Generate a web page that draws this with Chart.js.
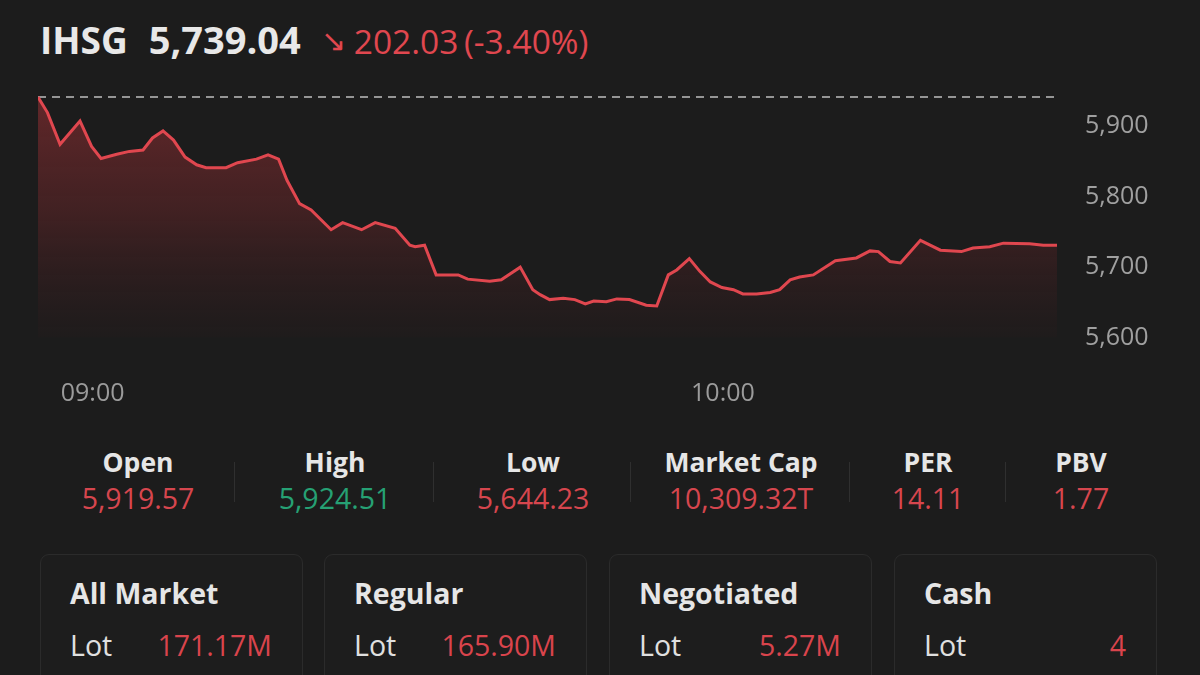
<!DOCTYPE html>
<html>
<head>
<meta charset="utf-8">
<script src="https://cdn.jsdelivr.net/npm/chart.js@4/dist/chart.umd.min.js"></script>
<style>
  html, body { margin: 0; padding: 0; }
  body {
    width: 1200px; height: 675px; overflow: hidden;
    background: #1c1c1c; color: #e6e6e6;
    font-family: 'Open Sans', sans-serif; position: relative;
  }
  .header { position: absolute; left: 40px; top: 12px; white-space: nowrap; font-size: 37px; line-height: 54px; }
  .header .name, .header .last { font-weight: 700; color: #e8e8e8; }
  .header .last { margin-left: 21px; font-size: 38px; }
  .header .chg { color: #e0474f; margin-left: 20px; font-size: 33.5px; }
  .header .arrow { font-size: 30px; margin-right: 8px; position: relative; top: -3px; }
  #chartWrap { position: absolute; left: 0; top: 0; width: 1200px; height: 420px; }
  .stats { position: absolute; top: 444px; left: 0; width: 1200px; height: 80px; }
  .stat { position: absolute; top: 0; text-align: center; transform: translateX(-50%); white-space: nowrap; }
  .stat .lbl { font-weight: 700; font-size: 26.5px; color: #e6e6e6; line-height: 36px; }
  .stat .val { font-size: 28.5px; line-height: 36px; }
  .sep { position: absolute; top: 18px; width: 1px; height: 40px; background: #2f2f2f; }
  .card {
    position: absolute; top: 554px; width: 263px; height: 140px;
    border: 1px solid #2b2b2b; border-radius: 9px; background: #1d1d1d; box-sizing: border-box;
  }
  .card .title { position: absolute; left: 29px; top: 19px; font-weight: 700; font-size: 28.5px; color: #e6e6e6; }
  .card .lot { position: absolute; left: 29px; top: 71px; font-size: 28.5px; color: #e0e0e0; }
  .card .num { position: absolute; right: 30px; top: 71px; font-size: 28.5px; color: #d9444c; }
</style>
</head>
<body>
<div class="header" id="header"></div>
<div id="chartWrap"><canvas id="ihsg"></canvas></div>
<div class="stats" id="stats"></div>
<div id="cards"></div>
<script>
// intraday points: minutes from 09:00 and index level
const times = [-5.2, -4.3, -3.1, -1.2, -0.1, 0.8, 2.3, 3.5, 4.8, 5.7, 6.7, 7.7, 8.8, 9.9, 10.8, 12.7,
  13.8, 15.6, 16.7, 17.7, 18.5, 19.7, 20.8, 22.7, 23.8, 25.6, 26.9, 28.8, 30.2, 30.7, 31.6, 32.7,
  34.8, 35.7, 37.8, 38.9, 40.7, 41.9, 42.6, 43.5, 44.8, 45.9, 46.9, 47.7, 48.9, 49.9, 51.1, 52.7,
  53.7, 54.8, 55.6, 56.8, 57.8, 58.8, 59.9, 61.0, 61.9, 63.2, 64.5, 65.4, 66.4, 67.3, 68.6, 70.7,
  72.7, 74.0, 74.8, 75.9, 76.9, 78.8, 80.7, 82.7, 83.8, 85.4, 86.7, 89.2, 90.5, 91.8];
const values = [5941, 5919, 5874, 5907, 5871, 5854, 5860, 5864, 5866, 5883, 5893, 5880, 5856, 5845, 5841, 5841,
  5848, 5853, 5859, 5853, 5823, 5790, 5781, 5753, 5763, 5753, 5763, 5755, 5731, 5729, 5731, 5689,
  5689, 5683, 5680, 5682, 5700, 5668, 5661, 5654, 5656, 5654, 5648, 5652, 5651, 5655, 5654, 5646,
  5645, 5689, 5696, 5712, 5694, 5679, 5671, 5668, 5662, 5662, 5664, 5668, 5682, 5686, 5689, 5709,
  5713, 5723, 5722, 5708, 5706, 5738, 5724, 5722, 5727, 5729, 5734, 5733, 5731, 5731];
const prevClose = 5941.07;
const yTicks = [5600, 5700, 5800, 5900];
const xTicks = [0, 60];

const headerName = 'IHSG';
const headerLast = '5,739.04';
const headerArrow = '↘';
const headerChange = '202.03\u2009(-3.40%)';

const statLabels = ['Open', 'High', 'Low', 'Market Cap', 'PER', 'PBV'];
const statValues = ['5,919.57', '5,924.51', '5,644.23', '10,309.32T', '14.11', '1.77'];
const statColors = ['#d6464e', '#26a174', '#d6464e', '#d6464e', '#d6464e', '#d6464e'];

const cardTitles = ['All Market', 'Regular', 'Negotiated', 'Cash'];
const cardLots = ['171.17M', '165.90M', '5.27M', '4'];

document.getElementById('header').innerHTML =
  '<span class="name">' + headerName + '</span><span class="last">' + headerLast +
  '</span><span class="chg"><span class="arrow">' + headerArrow + '</span>' + headerChange + '</span>';

// stats row
const statCenters = [138, 335, 533, 741, 928, 1081];
const sepX = [234, 433, 630, 849, 1005];
const stats = document.getElementById('stats');
statLabels.forEach((l, i) => {
  const d = document.createElement('div');
  d.className = 'stat';
  d.style.left = statCenters[i] + 'px';
  d.innerHTML = '<div class="lbl">' + l + '</div><div class="val" style="color:' + statColors[i] + '">' + statValues[i] + '</div>';
  stats.appendChild(d);
});
sepX.forEach(x => {
  const s = document.createElement('div');
  s.className = 'sep';
  s.style.left = x + 'px';
  stats.appendChild(s);
});

// volume cards
const cardLeft = [40, 324, 609, 894];
const cards = document.getElementById('cards');
cardTitles.forEach((t, i) => {
  const c = document.createElement('div');
  c.className = 'card';
  c.style.left = cardLeft[i] + 'px';
  c.innerHTML = '<div class="title">' + t + '</div><div class="lot">Lot</div><div class="num">' + cardLots[i] + '</div>';
  cards.appendChild(c);
});

const ctx = document.getElementById('ihsg');
const fmtTime = m => {
  const h = 9 + Math.floor(m / 60), mm = Math.round(m % 60);
  return String(h).padStart(2, '0') + ':' + String(mm).padStart(2, '0');
};

new Chart(ctx, {
  type: 'line',
  data: {
    datasets: [
      {
        label: 'IHSG',
        data: times.map((t, i) => ({ x: t, y: values[i] })),
        borderColor: '#e0474f',
        borderWidth: 3,
        pointRadius: 0,
        tension: 0,
        fill: 'start',
        backgroundColor: function (context) {
          const area = context.chart.chartArea;
          if (!area) return 'rgba(180,50,55,0.3)';
          const g = context.chart.ctx.createLinearGradient(0, area.top, 0, area.bottom);
          g.addColorStop(0, 'rgba(190,55,60,0.45)');
          g.addColorStop(0.5, 'rgba(150,45,50,0.3)');
          g.addColorStop(1, 'rgba(90,30,35,0.05)');
          return g;
        }
      },
      {
        label: 'Prev close',
        data: [{ x: times[0], y: prevClose }, { x: times[times.length - 1], y: prevClose }],
        borderColor: '#959595',
        borderWidth: 2,
        borderDash: [8, 6],
        pointRadius: 0,
        fill: false
      }
    ]
  },
  options: {
    responsive: true,
    maintainAspectRatio: false,
    animation: false,
    layout: { padding: { top: 90, left: 38, right: 0, bottom: 0 } },
    plugins: { legend: { display: false }, tooltip: { enabled: false } },
    scales: {
      x: {
        type: 'linear',
        min: times[0],
        max: times[times.length - 1],
        grid: { display: false, drawTicks: false },
        border: { display: false },
        afterBuildTicks: axis => { axis.ticks = xTicks.map(v => ({ value: v })); },
        afterFit: axis => { axis.height = 82.3; },
        ticks: {
          color: '#9b9b9b',
          padding: 41,
          maxRotation: 0,
          font: { family: 'Open Sans', size: 25 },
          callback: v => fmtTime(v)
        }
      },
      y: {
        position: 'right',
        min: 5600,
        max: 5951,
        grid: { display: false, drawTicks: false },
        border: { display: false },
        afterBuildTicks: axis => { axis.ticks = yTicks.map(v => ({ value: v })); },
        afterFit: axis => { axis.width = 143; },
        ticks: {
          color: '#a0a0a0',
          padding: 28,
          font: { family: 'Open Sans', size: 25 },
          callback: v => v.toLocaleString('en-US')
        }
      }
    }
  }
});
</script>
</body>
</html>
